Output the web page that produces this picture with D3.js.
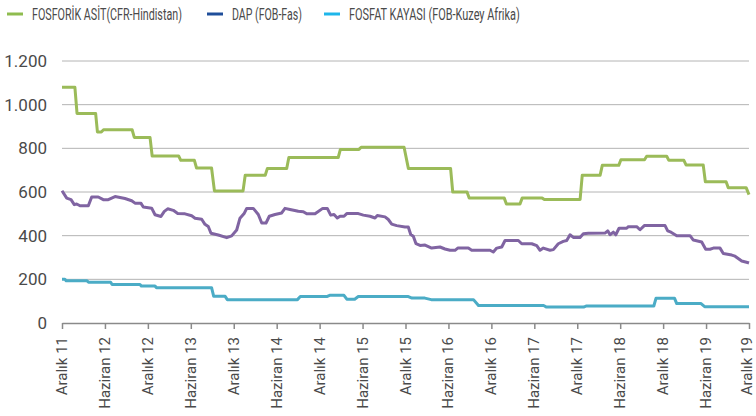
<!DOCTYPE html>
<html>
<head>
<meta charset="utf-8">
<script src="https://cdn.jsdelivr.net/npm/d3@7"></script>
<style>
  body { margin: 0; background: #fff; }
  svg { display: block; font-family: Roboto, "Noto Sans", sans-serif; }
</style>
</head>
<body>
<script>
// x values are months counted from Aralık 2011
const xLabels = ["Aralık 11", "Haziran 12", "Aralık 12", "Haziran 13", "Aralık 13", "Haziran 14",
    "Aralık 14", "Haziran 15", "Aralık 15", "Haziran 16", "Aralık 16", "Haziran 17",
    "Aralık 17", "Haziran 18", "Aralık 18", "Haziran 19", "Aralık 19"];
const yTicks = [0, 200, 400, 600, 800, 1000, 1200];

const seriesNames = ["FOSFORİK ASİT(CFR-Hindistan)", "DAP (FOB-Fas)", "FOSFAT KAYASI (FOB-Kuzey Afrika)"];

const fosforik = [
    [0, 1080], [1.8, 1080], [2.1, 960], [4.7, 960], [4.95, 875], [5.5, 875], [5.8, 885], [9.8, 885],
    [10.1, 850], [12.3, 850], [12.6, 765], [16.3, 765], [16.6, 745], [18.5, 745], [18.8, 710], [20.9, 710],
    [21.3, 605], [25.3, 605], [25.6, 677], [28.4, 677], [28.7, 708], [31.4, 708], [31.7, 758], [38.6, 758],
    [38.9, 795], [41.5, 795], [41.8, 805], [47.8, 805], [48.4, 708], [54.3, 708], [54.6, 600], [56.6, 600],
    [56.9, 572], [61.8, 572], [62.1, 545], [64.0, 545], [64.3, 572], [67.1, 572], [67.4, 566], [72.4, 566],
    [72.7, 677], [75.2, 677], [75.5, 722], [77.8, 722], [78.1, 748], [81.4, 748], [81.7, 764], [84.5, 764],
    [84.8, 745], [86.9, 745], [87.2, 724], [89.6, 724], [89.9, 647], [92.8, 647], [93.1, 620], [95.6, 620],
    [96, 588]
];

const dap = [
    [0, 606], [0.66, 572], [1.26, 565], [1.72, 542], [2.05, 545], [2.52, 537], [3.68, 537], [4.15, 577],
    [5.07, 577], [5.77, 565], [6.47, 565], [7.41, 579], [8.11, 575], [8.8, 570], [9.74, 560], [10.2, 549],
    [11.04, 548], [11.36, 531], [12.53, 526], [13.0, 496], [13.83, 488], [14.3, 511], [14.77, 523],
    [15.55, 516], [16.17, 502], [17.19, 500], [18.12, 491], [18.59, 480], [19.52, 475], [19.98, 452],
    [20.44, 442], [20.82, 411], [21.84, 403], [23.02, 391], [23.71, 399], [24.41, 426], [24.87, 480],
    [25.48, 503], [25.81, 525], [26.73, 525], [27.43, 497], [27.91, 458], [28.51, 458], [28.97, 489],
    [29.77, 497], [30.7, 504], [31.16, 525], [31.86, 520], [33.02, 512], [33.72, 510], [34.2, 500],
    [35.36, 500], [36.43, 525], [37.07, 525], [37.55, 494], [38.01, 497], [38.47, 481], [38.85, 489],
    [39.41, 489], [39.79, 501], [41.41, 501], [42.11, 494], [43.04, 489], [43.74, 481], [44.06, 492],
    [45.14, 486], [45.6, 474], [46.07, 453], [46.77, 446], [47.93, 440], [48.39, 440], [48.73, 405],
    [49.09, 397], [49.47, 363], [50.03, 355], [50.73, 357], [51.66, 343], [52.82, 348], [53.52, 339],
    [54.22, 333], [54.92, 333], [55.3, 343], [56.78, 343], [57.25, 333], [59.81, 333], [60.27, 325],
    [60.75, 343], [61.45, 348], [61.91, 378], [63.77, 378], [64.24, 363], [65.64, 363], [66.34, 354],
    [66.8, 333], [67.26, 343], [68.19, 333], [68.66, 336], [69.35, 363], [70.05, 374], [70.53, 378],
    [70.99, 404], [71.45, 392], [72.39, 392], [72.85, 409], [73.55, 411], [75.88, 412], [76.26, 422],
    [76.58, 404], [77.05, 416], [77.38, 404], [77.84, 434], [78.91, 434], [79.14, 441], [80.31, 441],
    [80.77, 427], [81.37, 446], [84.27, 446], [84.64, 422], [85.1, 416], [85.9, 400], [87.76, 400],
    [88.22, 380], [89.39, 371], [89.95, 338], [90.55, 338], [91.02, 343], [91.95, 343], [92.41, 318],
    [93.59, 311], [94.05, 306], [94.98, 284], [95.91, 276], [96, 275]
];

const fosfat = [
    [0, 200], [0.4, 200], [0.6, 193], [3.5, 193], [3.7, 187], [6.8, 187], [7.0, 176], [10.9, 176],
    [11.1, 169], [13.0, 169], [13.2, 162], [20.9, 162], [21.2, 122], [22.8, 122], [23.1, 107], [32.9, 107],
    [33.3, 121], [37.0, 121], [37.4, 127], [39.4, 127], [39.8, 109], [40.9, 109], [41.4, 121], [48.4, 121],
    [48.9, 114], [50.7, 114], [51.6, 107], [57.5, 107], [58.2, 80], [67.3, 80], [67.7, 73], [72.9, 73],
    [73.3, 78], [82.7, 78], [83.0, 113], [85.6, 113], [85.9, 89], [89.3, 89], [89.8, 75], [96, 75]
];

const width = 756, height = 416;
const margin = { left: 62, right: 7, top: 61, bottom: 93 };

const svg = d3.select("body").append("svg")
    .attr("width", width)
    .attr("height", height);

const x = d3.scaleLinear().domain([0, 96]).range([margin.left, width - margin.right]);
const y = d3.scaleLinear().domain([0, 1200]).range([height - margin.bottom, margin.top]);

const trFormat = d3.formatLocale({ decimal: ",", thousands: ".", grouping: [3], currency: ["", ""] }).format(",");

// gridlines
svg.append("g")
    .selectAll("line")
    .data(yTicks.filter(d => d > 0))
    .enter().append("line")
    .attr("x1", x(0))
    .attr("x2", x(96))
    .attr("y1", d => y(d))
    .attr("y2", d => y(d))
    .attr("stroke", "#b4b4b4")
    .attr("stroke-width", 1);

// y labels
svg.append("g")
    .selectAll("text")
    .data(yTicks)
    .enter().append("text")
    .attr("x", 47)
    .attr("y", d => y(d))
    .attr("dy", "0.35em")
    .attr("text-anchor", "end")
    .attr("font-size", 17)
    .attr("fill", "#4a4a4a")
    .text(d => trFormat(d));

// x axis
const xAxis = d3.axisBottom(x)
    .tickValues(xLabels.map((d, i) => i * 6))
    .tickFormat((d, i) => xLabels[i])
    .tickSize(6)
    .tickSizeOuter(0);

const gx = svg.append("g")
    .attr("transform", `translate(0,${y(0)})`)
    .call(xAxis);
gx.select(".domain").attr("stroke", "#8a8a8a").attr("stroke-width", 1.5);
gx.selectAll(".tick line").attr("stroke", "#8a8a8a").attr("stroke-width", 1.5);
gx.selectAll(".tick text")
    .attr("font-family", "Roboto, sans-serif")
    .attr("font-size", 15)
    .attr("fill", "#4a4a4a")
    .attr("text-anchor", "end")
    .attr("transform", "rotate(-90)")
    .attr("x", -14)
    .attr("y", (d, i) => i === xLabels.length - 1 ? -2.5 : 0) // keep the last one inside the edge
    .attr("dy", "0.3em");

// series lines
const line = d3.line().x(d => x(d[0])).y(d => y(d[1]));
const lineColors = ["#9bbb59", "#8064a2", "#4bacc6"];
const legendColors = ["#8fbc4f", "#1f4e9a", "#1eb6ea"];

[fosforik, dap, fosfat].forEach((data, i) => {
    svg.append("path")
        .datum(data)
        .attr("fill", "none")
        .attr("stroke", lineColors[i])
        .attr("stroke-width", 3)
        .attr("stroke-linejoin", "round")
        .attr("d", line);
});

// legend (the original face is condensed, so squeeze each text to its width)
const legendX = [7, 207, 324];
const legendTextW = [150, 70, 171];
const legend = svg.append("g")
    .selectAll("g")
    .data(seriesNames)
    .enter().append("g")
    .attr("transform", (d, i) => `translate(${legendX[i]},14)`);
legend.append("line")
    .attr("x1", 0).attr("x2", 16)
    .attr("stroke", (d, i) => legendColors[i])
    .attr("stroke-width", 3);
legend.append("text")
    .attr("dy", "0.35em")
    .attr("font-size", 16)
    .attr("fill", "#4a4a4a")
    .text(d => d)
    .attr("transform", function(d, i) {
        const k = legendTextW[i] / this.getComputedTextLength();
        return `translate(25,0) scale(${k},1)`;
    });
</script>
</body>
</html>
